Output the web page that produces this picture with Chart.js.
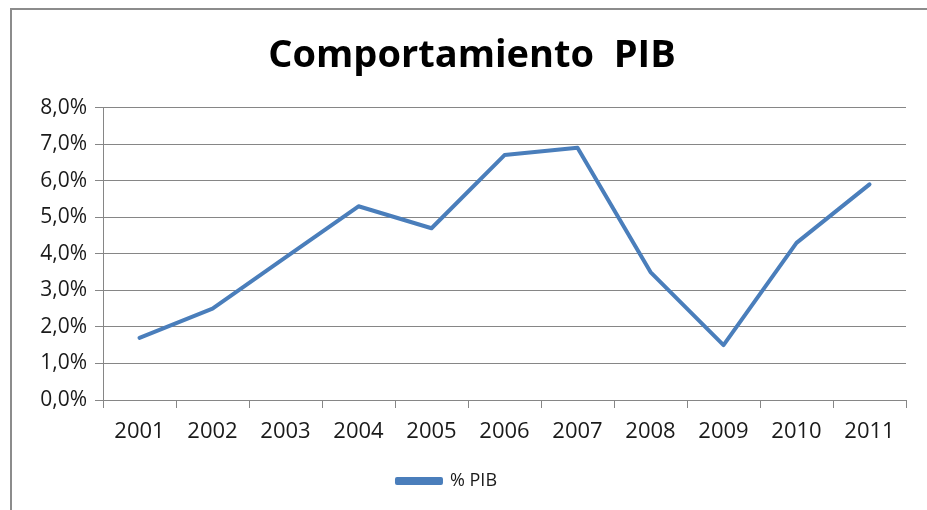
<!DOCTYPE html>
<html>
<head>
<meta charset="utf-8">
<script src="https://cdn.jsdelivr.net/npm/chart.js@4/dist/chart.umd.min.js"></script>
<style>
  html, body { margin: 0; padding: 0; background: #ffffff; }
  #wrap { position: relative; width: 927px; height: 510px; }
  canvas { display: block; }
</style>
</head>
<body>
<div id="wrap"><canvas id="c" width="927" height="510"></canvas></div>
<script>
const titleText = 'Comportamiento  PIB';
const seriesName = '% PIB';
const categories = ['2001','2002','2003','2004','2005','2006','2007','2008','2009','2010','2011'];
const pibValues = [1.7, 2.5, 3.9, 5.3, 4.7, 6.7, 6.9, 3.5, 1.5, 4.3, 5.9];
const yTicks = [0, 1, 2, 3, 4, 5, 6, 7, 8];

const lineBlue = '#4a7ebb';
const gridGray = '#868686';
const textDark = '#1a1a1a';

const framePlugin = {
  id: 'frame',
  beforeDraw(chart) {
    const ctx = chart.ctx;
    ctx.save();
    ctx.fillStyle = '#ffffff';
    ctx.fillRect(0, 0, chart.width, chart.height);
    ctx.strokeStyle = '#8c8c8c';
    ctx.lineWidth = 2;
    ctx.beginPath();
    ctx.moveTo(11, chart.height);
    ctx.lineTo(11, 9);
    ctx.lineTo(chart.width, 9);
    ctx.stroke();
    ctx.restore();
  },
  afterLayout(chart) {
    const shift = (box, center) => {
      const w = box.right - box.left;
      box.left = center - w / 2;
      box.right = box.left + w;
    };
    if (chart.titleBlock) shift(chart.titleBlock, 472);
    if (chart.legend) shift(chart.legend, 447);
  }
};

new Chart(document.getElementById('c'), {
  type: 'line',
  data: {
    labels: categories,
    datasets: [{
      label: seriesName,
      data: pibValues,
      borderColor: lineBlue,
      backgroundColor: lineBlue,
      borderWidth: 4,
      pointRadius: 0,
      pointHoverRadius: 0,
      tension: 0,
      borderJoinStyle: 'round',
      borderCapStyle: 'round'
    }]
  },
  options: {
    responsive: false,
    animation: false,
    devicePixelRatio: 1,
    layout: { padding: { left: 10, right: 21, top: 10, bottom: 10 } },
    plugins: {
      title: {
        display: true,
        text: titleText,
        color: '#000000',
        font: { family: 'Open Sans', size: 38, weight: 'bold' },
        padding: { top: 23, bottom: 29 }
      },
      legend: {
        display: true,
        position: 'bottom',
        labels: {
          color: textDark,
          font: { family: 'Open Sans', size: 18 },
          boxWidth: 44,
          boxHeight: 4,
          padding: 10
        }
      },
      tooltip: { enabled: false }
    },
    scales: {
      x: {
        offset: true,
        grid: {
          display: true,
          offset: true,
          drawOnChartArea: false,
          drawTicks: true,
          tickLength: 8,
          color: gridGray,
          lineWidth: 1
        },
        border: { display: true, color: gridGray, width: 1 },
        ticks: {
          color: textDark,
          font: { family: 'Open Sans', size: 22 },
          padding: 11,
          maxRotation: 0,
          autoSkip: false
        },
        afterFit(scale) { scale.height = 62; }
      },
      y: {
        min: 0,
        max: 8,
        afterBuildTicks(scale) { scale.ticks = yTicks.map(v => ({ value: v })); },
        grid: {
          color: gridGray,
          lineWidth: 1,
          drawTicks: true,
          tickLength: 8
        },
        border: { display: true, color: gridGray, width: 1 },
        ticks: {
          color: textDark,
          font: { family: 'Open Sans', size: 21 },
          padding: 8,
          callback: (v) => v.toFixed(1).replace('.', ',') + '%'
        },
        afterFit(scale) { scale.width = 93; }
      }
    }
  },
  plugins: [framePlugin]
});
</script>
</body>
</html>
